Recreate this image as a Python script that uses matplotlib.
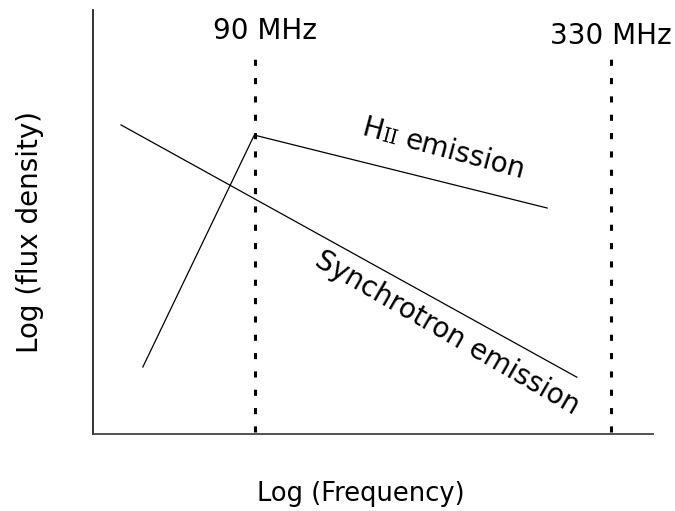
import numpy as np
import matplotlib
matplotlib.use("Agg")
import matplotlib.pyplot as plt
from matplotlib.font_manager import FontProperties

# schematic spectrum, arbitrary log units (0..10 on both axes)
sync_x = [0.5, 8.64]
sync_y = [7.29, 1.34]

hii_x = [0.89, 2.88, 8.11]
hii_y = [1.58, 7.05, 5.33]

# observing frequencies
freq_x = [2.89, 9.25]
freq_top = [9.04, 8.92]
freq_labels = ['90 MHz', '330 MHz']
freq_label_x = [3.07, 9.25]
freq_label_y = [9.5, 9.39]

FS = 20

fig = plt.figure(figsize=(6.75, 5.11), dpi=100)
ax = fig.add_axes([93/675, 1-434/511, 560/675, 424/511])
ax.set_xlim(0, 10)
ax.set_ylim(0, 10)

ax.plot(sync_x, sync_y, color='black', lw=0.9)
ax.plot(hii_x, hii_y, color='black', lw=0.9)

for x, top, lab, lx, ly in zip(freq_x, freq_top, freq_labels, freq_label_x, freq_label_y):
    ax.plot([x, x], [0.05, top], color='black', lw=2.2, dashes=(2.0, 4.0))
    ax.text(lx, ly, lab, fontsize=FS, ha='center', va='center', clip_on=False)

ax.text(6.32, 2.38, 'Synchrotron emission', fontsize=FS, rotation=-30,
        ha='center', va='center', rotation_mode='anchor')

for s in ['top', 'right']:
    ax.spines[s].set_visible(False)
ax.spines['left'].set_linewidth(1.3)
ax.spines['bottom'].set_linewidth(1.3)
ax.spines['left'].set_color('#222222')
ax.spines['bottom'].set_color('#444444')
ax.set_xticks([])
ax.set_yticks([])

fig.text(30/675, 1-232/511, 'Log (flux density)', fontsize=FS,
         rotation=90, ha='center', va='center')
fig.text(361/675, 1-494/511, 'Log (Frequency)', fontsize=18.5,
         ha='center', va='center')

# "HII emission" label: sans H, small serif roman numeral, sans rest
fig.canvas.draw()
rend = fig.canvas.get_renderer()
pieces = [('H', FontProperties(family='DejaVu Sans', size=FS)),
          ('II', FontProperties(family='DejaVu Serif', size=14.5)),
          ('emission', FontProperties(family='DejaVu Sans', size=FS))]
gaps = [1.0, 7.0, 0.0]
widths = [rend.get_text_width_height_descent(s, p, ismath=False)[0] for s, p in pieces]
total = sum(widths) + sum(gaps)
ang = np.deg2rad(-15)
u = np.array([np.cos(ang), np.sin(ang)])
n = np.array([-np.sin(ang), np.cos(ang)])
center = ax.transData.transform((6.25, 6.72))
start = center - u * total / 2 - n * 8
pos = 0.0
for (s, p), w, g in zip(pieces, widths, gaps):
    xy = start + u * pos
    fxy = fig.transFigure.inverted().transform(xy)
    fig.text(fxy[0], fxy[1], s, fontproperties=p, rotation=-15,
             ha='left', va='baseline', rotation_mode='anchor')
    pos += w + g

fig.savefig('out.png', dpi=100)
